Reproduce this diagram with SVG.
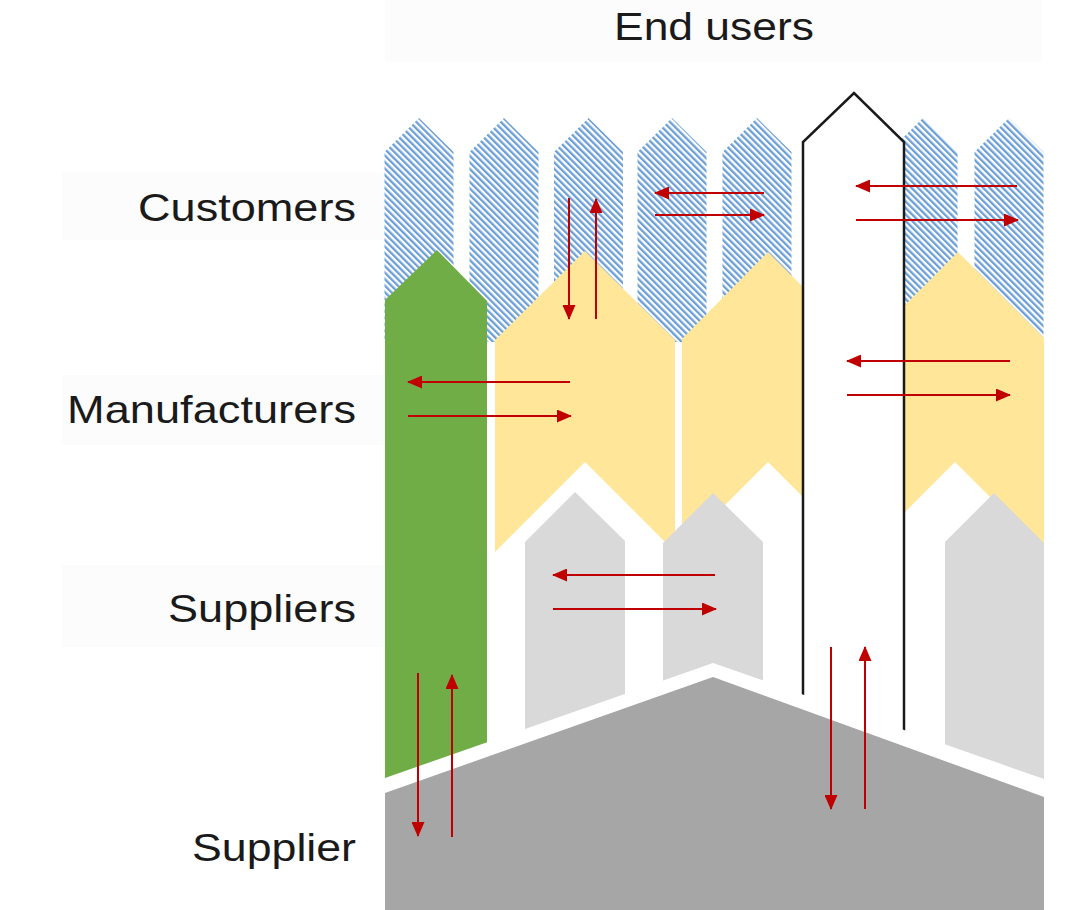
<svg xmlns="http://www.w3.org/2000/svg" width="1080" height="910" viewBox="0 0 1080 910">
<defs>
<pattern id="hatch" width="4.6" height="4.6" patternUnits="userSpaceOnUse" patternTransform="rotate(-45)">
<rect width="4.6" height="4.6" fill="#ffffff"/>
<rect x="0" y="0" width="2.3" height="4.6" fill="#6c9fd6"/>
</pattern>
<marker id="ah" viewBox="0 0 15 13" refX="14" refY="6.5" markerWidth="15" markerHeight="13" markerUnits="userSpaceOnUse" orient="auto">
<path d="M0,0 L15,6.5 L0,13 z" fill="#c00000"/>
</marker>
<style>
.lbl{font-family:"Liberation Sans",Arial,sans-serif;font-size:39px;fill:#1a1a1a}
.band{fill:#fcfcfc}
.cust{fill:url(#hatch)}
.manu{fill:#ffe699}
.gap{fill:#ffffff}
.supp{fill:#d9d9d9}
.arr{stroke:#c00000;stroke-width:2;fill:none;marker-end:url(#ah)}
</style>
</defs>
<rect width="1080" height="910" fill="#ffffff"/>
<g id="label-bands">
<rect class="band" x="385" y="0" width="657" height="62"/>
<rect class="band" x="62" y="172" width="323" height="68"/>
<rect class="band" x="62" y="375" width="323" height="70"/>
<rect class="band" x="62" y="565" width="323" height="82"/>
</g>
<g id="customers">
<polygon class="cust" points="384.5,152 419,118 453.5,152 453.5,342 384.5,342"/>
<polygon class="cust" points="469.5,152 504,118 538.5,152 538.5,342 469.5,342"/>
<polygon class="cust" points="554,152 588.5,118 623,152 623,342 554,342"/>
<polygon class="cust" points="637.5,152 672,118 706.5,152 706.5,342 637.5,342"/>
<polygon class="cust" points="722.5,152 757,118 791.5,152 791.5,342 722.5,342"/>
<polygon class="cust" points="888.5,152 923,118 957.5,152 957.5,342 888.5,342"/>
<polygon class="cust" points="974.5,152 1009,118 1043.5,152 1043.5,342 974.5,342"/>
</g>
<g id="manufacturer-green">
<polygon fill="#70ad47" points="385,300 437,250 487,301 487,820 385,820"/>
</g>
<g id="manufacturers">
<polygon class="manu" points="495,340 585,251 675,340 675,565 495,565"/>
<polygon class="manu" points="682,339 768,252 855,339 855,565 682,565"/>
<polygon class="manu" points="870,340 958,252 1044,338 1044,565 870,565"/>
</g>
<g id="supplier-gaps">
<polygon class="gap" points="495,552 585,462 673,550 673,820 495,820"/>
<polygon class="gap" points="682,548 768,462 855,549 855,820 682,820"/>
<polygon class="gap" points="870,547 955,462 1044,551 1044,820 870,820"/>
</g>
<g id="suppliers">
<polygon class="supp" points="525,542 575,492 625,541 625,820 525,820"/>
<polygon class="supp" points="663,543 713,493 763,542 763,820 663,820"/>
<polygon class="supp" points="945,542 994,493 1044,543 1044,820 945,820"/>
</g>
<g id="end-users">
<path d="M803,820 L803,142 L854,93 L904,142 L904,820" fill="#ffffff" stroke="#1a1a1a" stroke-width="2.5" stroke-linejoin="miter"/>
</g>
<g id="supplier">
<polygon fill="#ffffff" points="385,778 713,663 1044,779 1044,910 385,910"/>
<polygon fill="#a6a6a6" points="385,793 713,677 1044,797 1044,910 385,910"/>
</g>
<g id="connectors">
<line class="arr" x1="569" y1="198" x2="569" y2="319"/>
<line class="arr" x1="596" y1="319" x2="596" y2="199"/>
<line class="arr" x1="764" y1="193" x2="655" y2="193"/>
<line class="arr" x1="655" y1="215" x2="764" y2="215"/>
<line class="arr" x1="1017" y1="186" x2="856" y2="186"/>
<line class="arr" x1="856" y1="220" x2="1018" y2="220"/>
<line class="arr" x1="570" y1="382" x2="408" y2="382"/>
<line class="arr" x1="408" y1="416" x2="571" y2="416"/>
<line class="arr" x1="1010" y1="361" x2="847" y2="361"/>
<line class="arr" x1="847" y1="395" x2="1010" y2="395"/>
<line class="arr" x1="715" y1="575" x2="553" y2="575"/>
<line class="arr" x1="553" y1="609" x2="716" y2="609"/>
<line class="arr" x1="418" y1="673" x2="418" y2="836"/>
<line class="arr" x1="452" y1="837" x2="452" y2="675"/>
<line class="arr" x1="831" y1="647" x2="831" y2="809"/>
<line class="arr" x1="865" y1="809" x2="865" y2="647"/>
</g>
<g id="labels">
<text class="lbl" x="714" y="40" text-anchor="middle" textLength="200" lengthAdjust="spacingAndGlyphs">End users</text>
<text class="lbl" x="356" y="221" text-anchor="end" textLength="218" lengthAdjust="spacingAndGlyphs">Customers</text>
<text class="lbl" x="356" y="423" text-anchor="end" textLength="289" lengthAdjust="spacingAndGlyphs">Manufacturers</text>
<text class="lbl" x="356" y="622" text-anchor="end" textLength="188" lengthAdjust="spacingAndGlyphs">Suppliers</text>
<text class="lbl" x="356" y="861" text-anchor="end" textLength="164" lengthAdjust="spacingAndGlyphs">Supplier</text>
</g>
</svg>
